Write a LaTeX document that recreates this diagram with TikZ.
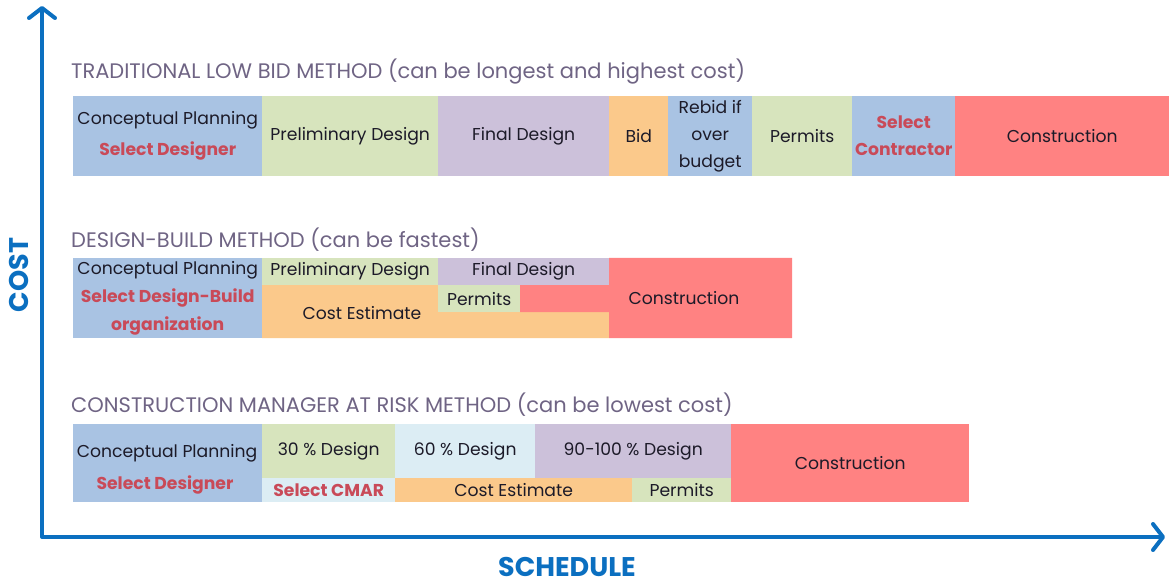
\documentclass[tikz,border=0pt]{standalone}
\usepackage{fontspec}
\setmainfont{Poppins}
\usetikzlibrary{arrows.meta}

\definecolor{achse}{HTML}{0B6FC0}
\definecolor{titel}{HTML}{6F6484}
\definecolor{schrift}{HTML}{1C1A28}
\definecolor{auswahl}{HTML}{C94A58}
\definecolor{blau}{HTML}{A9C3E3}
\definecolor{gruen}{HTML}{D7E4BD}
\definecolor{lila}{HTML}{CCC1DA}
\definecolor{orange}{HTML}{FBC98B}
\definecolor{rot}{HTML}{FF8282}
\definecolor{hellblau}{HTML}{DCEDF4}

\begin{document}
\begin{tikzpicture}[x=1pt, y=-1pt,
    every node/.style={inner sep=0pt, align=center, text=schrift, font=\fontsize{17.2}{27}\selectfont},
    feld/.style={anchor=north west, minimum height=80pt},
    kopf/.style={anchor=west, text=titel, font=\fontsize{21}{24}\selectfont},
    wahl/.style={text=auswahl, font=\fontsize{17.2}{27}\selectfont\bfseries},
    achsentext/.style={text=achse, font=\fontsize{27}{30}\selectfont\bfseries}]

\useasboundingbox (0,0) rectangle (1169,585);

% Traditionell
\node[kopf] (K1) at (71,72) {TRADITIONAL LOW BID METHOD (can be longest and highest cost)};
\node[feld, fill=blau, minimum width=189pt] (T1) at (73,96) {Conceptual Planning\\[4pt]\textcolor{auswahl}{\bfseries Select Designer}};
\node[feld, fill=gruen, minimum width=176pt] (T2) at (262,96) {Preliminary Design};
\node[feld, fill=lila, minimum width=171pt] (T3) at (438,96) {Final Design};
\node[feld, fill=orange, minimum width=59pt] (T4) at (609,96) {Bid};
\node[feld, fill=blau, minimum width=84pt] (T5) at (668,96) {Rebid if\\over\\budget};
\node[feld, fill=gruen, minimum width=100pt] (T6) at (752,96) {Permits};
\node[feld, fill=blau, minimum width=103pt, wahl] (T7) at (852,96) {Select\\Contractor};
\node[feld, fill=rot, minimum width=214pt] (T8) at (955,96) {Construction};

% Design-Build
\node[kopf] (K2) at (71,240) {DESIGN-BUILD METHOD (can be fastest)};
\fill[orange] (262,285) rectangle (438,338) (438,312) rectangle (609,338);
\fill[rot] (520,285) rectangle (609,312) (609,258) rectangle (792,338);
\node[feld, fill=blau, minimum width=189pt, font=\fontsize{17.2}{28}\selectfont] (D1) at (73,258) {Conceptual Planning\\\textcolor{auswahl}{\bfseries Select Design-Build}\\\textcolor{auswahl}{\bfseries organization}};
\node[feld, fill=gruen, minimum width=176pt, minimum height=27pt] (D2) at (262,258) {Preliminary Design};
\node[feld, fill=lila, minimum width=171pt, minimum height=27pt] (D3) at (438,258) {Final Design};
\node[feld, fill=gruen, minimum width=82pt, minimum height=27pt] (D4) at (438,285) {Permits};
\node (D5) at (362,313) {Cost Estimate};
\node (D6) at (684,298) {Construction};

% CMAR
\node[kopf] (K3) at (71,405) {CONSTRUCTION MANAGER AT RISK METHOD (can be lowest cost)};
\node[feld, fill=blau, minimum width=189pt, minimum height=78pt] (C1) at (73,424) {};
\node (C1a) at (167,453) {Conceptual Planning};
\node[wahl] (C1b) at (165,485) {Select Designer};
\node[feld, fill=gruen, minimum width=133pt, minimum height=54pt] (C2) at (262,424) {30 \% Design};
\node[feld, fill=hellblau, minimum width=133pt, minimum height=24pt, wahl] (C3) at (262,478) {Select CMAR};
\node[feld, fill=hellblau, minimum width=140pt, minimum height=54pt] (C4) at (395,424) {60 \% Design};
\node[feld, fill=lila, minimum width=196pt, minimum height=54pt] (C5) at (535,424) {90-100 \% Design};
\node[feld, fill=orange, minimum width=237pt, minimum height=24pt] (C6) at (395,478) {Cost Estimate};
\node[feld, fill=gruen, minimum width=99pt, minimum height=24pt] (C7) at (632,478) {Permits};
\node[feld, fill=rot, minimum width=238pt, minimum height=78pt] (C8) at (731,424) {Construction};

% Achsen
\coordinate (O) at (42,537);
\coordinate (Y) at (42,6);
\coordinate (X) at (1165,537);
\draw[achse, line width=4pt, line join=round,
      {Straight Barb[length=10pt, width=26pt, round]}-{Straight Barb[length=10pt, width=26pt, round]}] (Y) -- (O) -- (X);
\node[achsentext, rotate=90] (kosten) at (19,275) {COST};
\node[achsentext, anchor=base, text depth=0pt] (zeitplan) at (567,576) {SCHEDULE};

\end{tikzpicture}
\end{document}
